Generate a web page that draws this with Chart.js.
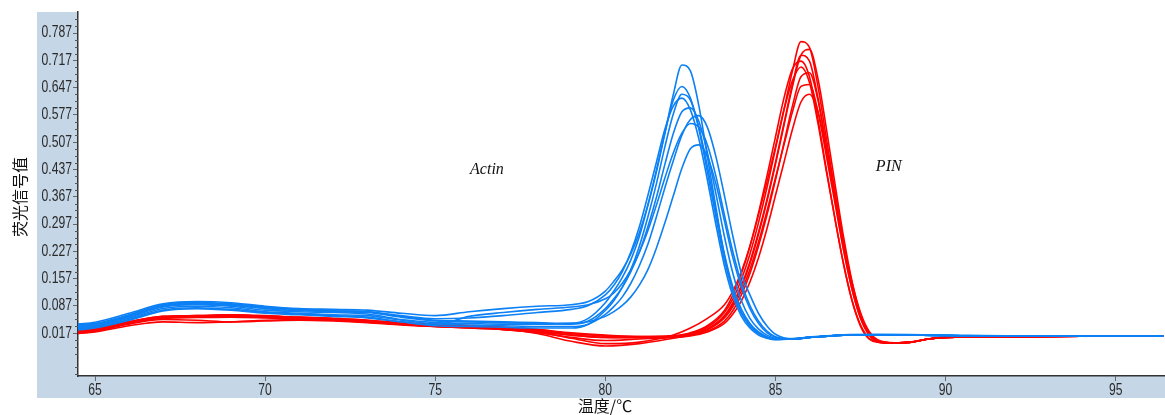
<!DOCTYPE html>
<html>
<head>
<meta charset="utf-8">
<script src="https://cdn.jsdelivr.net/npm/chart.js@4.4.1/dist/chart.umd.min.js"></script>
<style>
  html, body { margin: 0; padding: 0; background: #fff; }
</style>
</head>
<body>
<canvas id="myChart" width="1165" height="415"></canvas>
<script>
// tick labels
const xTicks = [65, 70, 75, 80, 85, 90, 95];
const yTicks = [0.017, 0.087, 0.157, 0.227, 0.297, 0.367, 0.437, 0.507, 0.577, 0.647, 0.717, 0.787];

// temperature grids (°C)
const actinTemps = [64.5, 65, 66, 67, 68, 69, 70, 71, 72, 73, 74, 75, 76, 77, 78, 79, 79.5, 80,
	80.25, 80.5, 80.75, 81, 81.25, 81.5, 81.75, 82, 82.25, 82.5, 82.75, 83, 83.25, 83.5, 83.75,
	84, 84.25, 84.5, 84.75, 85, 85.5, 86, 87, 88, 90, 92, 94, 96.4];
const pinTemps = [64.5, 65, 66, 67, 68, 69, 70, 71, 72, 73, 74, 75, 76, 77, 78, 79, 80, 81, 82,
	82.5, 83, 83.5, 83.75, 84, 84.25, 84.5, 84.75, 85, 85.25, 85.5, 85.75, 86, 86.25, 86.5, 86.75,
	87, 87.25, 87.5, 87.75, 88, 88.5, 89, 89.5, 90, 92, 94, 96.4];

// Actin melt curves (blue)
const actin1 = [0.040, 0.045, 0.068, 0.092, 0.098, 0.095, 0.086, 0.080, 0.078, 0.076, 0.068, 0.062, 0.072, 0.080, 0.086, 0.090, 0.098, 0.125,
	0.150, 0.180, 0.220, 0.275, 0.345, 0.430, 0.530, 0.630, 0.705, 0.690, 0.600, 0.470, 0.340, 0.215, 0.125,
	0.068, 0.035, 0.016, 0.006, 0.002, 0.003, 0.007, 0.013, 0.014, 0.012, 0.010, 0.010, 0.010];
const actin2 = [0.032, 0.036, 0.058, 0.084, 0.090, 0.086, 0.076, 0.072, 0.070, 0.066, 0.052, 0.044, 0.042, 0.040, 0.040, 0.042, 0.055, 0.095,
	0.125, 0.160, 0.205, 0.265, 0.345, 0.435, 0.530, 0.615, 0.650, 0.620, 0.540, 0.430, 0.315, 0.205, 0.125,
	0.070, 0.038, 0.018, 0.006, 0.001, 0.002, 0.006, 0.012, 0.013, 0.011, 0.009, 0.009, 0.009];
const actin3 = [0.025, 0.030, 0.050, 0.074, 0.080, 0.076, 0.068, 0.064, 0.060, 0.056, 0.046, 0.036, 0.034, 0.032, 0.030, 0.030, 0.040, 0.075,
	0.100, 0.135, 0.180, 0.240, 0.315, 0.400, 0.495, 0.580, 0.630, 0.615, 0.545, 0.445, 0.330, 0.220, 0.135,
	0.078, 0.042, 0.020, 0.008, 0.002, 0.002, 0.006, 0.012, 0.013, 0.011, 0.009, 0.009, 0.009];
const actin4 = [0.036, 0.040, 0.062, 0.088, 0.092, 0.088, 0.080, 0.075, 0.072, 0.070, 0.058, 0.048, 0.046, 0.044, 0.042, 0.040, 0.048, 0.080,
	0.105, 0.135, 0.175, 0.225, 0.290, 0.365, 0.450, 0.530, 0.585, 0.595, 0.560, 0.480, 0.375, 0.265, 0.170,
	0.100, 0.055, 0.028, 0.012, 0.004, 0.002, 0.006, 0.012, 0.013, 0.011, 0.009, 0.009, 0.009];
const actin5 = [0.030, 0.034, 0.055, 0.080, 0.086, 0.082, 0.072, 0.068, 0.064, 0.062, 0.050, 0.040, 0.038, 0.036, 0.034, 0.034, 0.040, 0.065,
	0.085, 0.110, 0.145, 0.190, 0.245, 0.315, 0.390, 0.460, 0.525, 0.565, 0.575, 0.545, 0.470, 0.370, 0.265,
	0.170, 0.115, 0.068, 0.035, 0.014, 0.002, 0.006, 0.012, 0.013, 0.011, 0.009, 0.009, 0.009];
const actin6 = [0.028, 0.032, 0.052, 0.076, 0.082, 0.078, 0.070, 0.066, 0.062, 0.058, 0.046, 0.038, 0.060, 0.070, 0.078, 0.084, 0.090, 0.105,
	0.120, 0.145, 0.180, 0.225, 0.280, 0.345, 0.415, 0.480, 0.530, 0.555, 0.545, 0.500, 0.420, 0.320, 0.225,
	0.145, 0.088, 0.048, 0.022, 0.008, 0.002, 0.006, 0.012, 0.013, 0.011, 0.009, 0.009, 0.009];
const actin7 = [0.034, 0.038, 0.060, 0.086, 0.094, 0.090, 0.082, 0.078, 0.074, 0.072, 0.060, 0.050, 0.048, 0.046, 0.044, 0.042, 0.046, 0.060,
	0.072, 0.088, 0.110, 0.140, 0.180, 0.235, 0.300, 0.370, 0.440, 0.490, 0.500, 0.470, 0.400, 0.305, 0.210,
	0.135, 0.080, 0.042, 0.018, 0.006, 0.002, 0.006, 0.012, 0.013, 0.011, 0.009, 0.009, 0.009];
const actin8 = [0.038, 0.042, 0.064, 0.090, 0.096, 0.092, 0.084, 0.078, 0.074, 0.072, 0.062, 0.054, 0.056, 0.062, 0.070, 0.078, 0.088, 0.115,
	0.140, 0.175, 0.225, 0.290, 0.370, 0.455, 0.540, 0.600, 0.620, 0.590, 0.515, 0.410, 0.295, 0.190, 0.112,
	0.060, 0.030, 0.012, 0.004, 0.000, 0.002, 0.006, 0.012, 0.013, 0.011, 0.009, 0.009, 0.009];

// PIN melt curves (red)
const pin1 = [0.018, 0.024, 0.042, 0.056, 0.058, 0.060, 0.058, 0.055, 0.052, 0.048, 0.040, 0.036, 0.034, 0.030, 0.024, 0.016, 0.010, 0.008, 0.010,
	0.016, 0.032, 0.070, 0.105, 0.155, 0.220, 0.300, 0.390, 0.490, 0.590, 0.690, 0.765, 0.750, 0.650, 0.515, 0.380,
	0.250, 0.140, 0.060, 0.015, -0.004, -0.008, -0.006, 0.002, 0.006, 0.008, 0.009, 0.010];
const pin2 = [0.020, 0.026, 0.045, 0.060, 0.062, 0.064, 0.060, 0.056, 0.052, 0.046, 0.040, 0.035, 0.032, 0.028, 0.022, 0.012, 0.006, 0.005, 0.008,
	0.014, 0.028, 0.062, 0.095, 0.140, 0.200, 0.275, 0.360, 0.455, 0.555, 0.655, 0.730, 0.715, 0.620, 0.490, 0.360,
	0.235, 0.130, 0.055, 0.012, -0.005, -0.009, -0.006, 0.002, 0.006, 0.008, 0.009, 0.010];
const pin3 = [0.016, 0.022, 0.040, 0.052, 0.050, 0.046, 0.048, 0.050, 0.048, 0.044, 0.038, 0.034, 0.032, 0.028, 0.020, 0.004, -0.010, -0.006, 0.012,
	0.030, 0.055, 0.090, 0.125, 0.175, 0.240, 0.320, 0.405, 0.495, 0.590, 0.665, 0.700, 0.660, 0.555, 0.430, 0.310,
	0.195, 0.100, 0.035, 0.002, -0.006, -0.008, -0.005, 0.002, 0.006, 0.008, 0.009, 0.010];
const pin4 = [0.022, 0.028, 0.046, 0.058, 0.060, 0.062, 0.060, 0.058, 0.054, 0.050, 0.042, 0.038, 0.036, 0.032, 0.026, 0.018, 0.012, 0.008, 0.008,
	0.012, 0.022, 0.048, 0.075, 0.115, 0.170, 0.240, 0.320, 0.410, 0.505, 0.600, 0.675, 0.685, 0.615, 0.495, 0.370,
	0.245, 0.140, 0.062, 0.018, -0.002, -0.008, -0.006, 0.002, 0.006, 0.008, 0.009, 0.010];
const pin5 = [0.020, 0.025, 0.044, 0.058, 0.061, 0.062, 0.059, 0.055, 0.050, 0.045, 0.039, 0.034, 0.030, 0.026, 0.018, 0.006, -0.002, 0.002, 0.006,
	0.012, 0.026, 0.056, 0.085, 0.125, 0.180, 0.250, 0.330, 0.415, 0.500, 0.585, 0.650, 0.655, 0.585, 0.470, 0.350,
	0.230, 0.130, 0.056, 0.014, -0.004, -0.009, -0.006, 0.002, 0.006, 0.008, 0.009, 0.010];
const pin6 = [0.024, 0.030, 0.047, 0.060, 0.062, 0.064, 0.062, 0.058, 0.055, 0.050, 0.044, 0.040, 0.036, 0.032, 0.026, 0.016, 0.010, 0.007, 0.007,
	0.010, 0.020, 0.042, 0.066, 0.100, 0.148, 0.210, 0.285, 0.370, 0.455, 0.540, 0.610, 0.630, 0.585, 0.485, 0.370,
	0.250, 0.148, 0.070, 0.022, 0.000, -0.008, -0.006, 0.002, 0.006, 0.008, 0.009, 0.010];
const pin7 = [0.018, 0.024, 0.043, 0.055, 0.057, 0.058, 0.056, 0.053, 0.050, 0.046, 0.040, 0.034, 0.030, 0.026, 0.020, 0.012, 0.006, 0.006, 0.010,
	0.018, 0.036, 0.075, 0.115, 0.170, 0.240, 0.325, 0.420, 0.520, 0.620, 0.695, 0.715, 0.675, 0.565, 0.435, 0.310,
	0.195, 0.102, 0.038, 0.004, -0.006, -0.009, -0.006, 0.002, 0.006, 0.008, 0.009, 0.010];
const pin8 = [0.016, 0.020, 0.036, 0.046, 0.044, 0.046, 0.050, 0.052, 0.050, 0.046, 0.040, 0.036, 0.033, 0.028, 0.016, -0.004, -0.016, -0.010, 0.004,
	0.012, 0.026, 0.058, 0.090, 0.135, 0.195, 0.270, 0.355, 0.450, 0.550, 0.650, 0.730, 0.745, 0.670, 0.540, 0.400,
	0.265, 0.150, 0.066, 0.018, -0.003, -0.008, -0.006, 0.002, 0.006, 0.008, 0.009, 0.010];

const actinCurves = [actin1, actin2, actin3, actin4, actin5, actin6, actin7, actin8];
const pinCurves = [pin1, pin2, pin3, pin4, pin5, pin6, pin7, pin8];

const BLUE = "#0c80f4";
const RED = "#ff0000";

function makeSet(temps, vals, color) {
	return {
		data: temps.map((t, i) => ({ x: t, y: vals[i] })),
		borderColor: color,
		borderWidth: 1.6,
		pointRadius: 0,
		fill: false,
		cubicInterpolationMode: "monotone",
	};
}

// Chart.js paints the first dataset last, so blue goes first to sit on top
const datasets = [];
actinCurves.forEach((c) => datasets.push(makeSet(actinTemps, c, BLUE)));
pinCurves.forEach((c) => datasets.push(makeSet(pinTemps, c, RED)));

const decor = {
	id: "decor",
	beforeDraw(chart) {
		const c = chart.ctx;
		const a = chart.chartArea;
		c.save();
		c.fillStyle = "#ffffff";
		c.fillRect(0, 0, chart.width, chart.height);
		c.fillStyle = "#c5d6e6";
		c.fillRect(37, a.top, chart.width - 37, 398 - a.top);
		c.fillStyle = "#ffffff";
		c.fillRect(a.left, a.top, a.right - a.left, a.bottom - a.top);
		c.restore();
	},
	afterDraw(chart) {
		const c = chart.ctx;
		const a = chart.chartArea;
		const ys = chart.scales.y;
		const xs = chart.scales.x;
		c.save();
		// minor ticks on the y axis
		c.strokeStyle = "#555";
		c.lineWidth = 1;
		for (let k = -6; k <= 46; k++) {
			if (k % 4 === 0) continue;
			const v = 0.017 + k * 0.0175;
			const py = Math.round(ys.getPixelForValue(v)) + 0.5;
			if (py < a.top || py > a.bottom) continue;
			c.beginPath();
			c.moveTo(a.left - 3, py);
			c.lineTo(a.left, py);
			c.stroke();
		}
		// tick labels in a narrow face
		c.fillStyle = "#2a2a2a";
		c.font = "16px 'Liberation Sans', Arial, sans-serif";
		c.textBaseline = "middle";
		yTicks.forEach((v) => {
			c.save();
			c.translate(a.left - 6, ys.getPixelForValue(v));
			c.scale(0.76, 1);
			c.textAlign = "right";
			c.fillText(v.toFixed(3), 0, 0);
			c.restore();
		});
		xTicks.forEach((v) => {
			c.save();
			c.translate(xs.getPixelForValue(v), 391);
			c.scale(0.76, 1);
			c.textAlign = "center";
			c.fillText(String(v), 0, 0);
			c.restore();
		});
		// axis titles
		c.fillStyle = "#111";
		c.font = "16px 'Noto Sans CJK SC', sans-serif";
		c.textAlign = "center";
		c.textBaseline = "middle";
		c.fillText("温度/℃", 605, 406);
		c.translate(20, 197);
		c.rotate(-Math.PI / 2);
		c.fillText("荧光信号值", 0, 0);
		c.restore();
		// curve labels
		c.save();
		c.fillStyle = "#111";
		c.font = "italic 16px 'Liberation Serif', serif";
		c.textAlign = "center";
		c.textBaseline = "middle";
		c.fillText("Actin", xs.getPixelForValue(76.52), ys.getPixelForValue(0.435));
		c.fillText("PIN", xs.getPixelForValue(88.33), ys.getPixelForValue(0.443));
		c.restore();
	},
};

const ctx = document.getElementById("myChart");

const myChart = new Chart(ctx, {
	type: "line",
	data: { datasets: datasets },
	plugins: [decor],
	options: {
		responsive: false,
		animation: false,
		events: [],
		layout: { padding: { left: 37, top: 12, right: 0, bottom: 17 } },
		plugins: {
			legend: { display: false },
			tooltip: { enabled: false },
		},
		scales: {
			x: {
				type: "linear",
				min: 64.5,
				max: 96.45,
				afterBuildTicks: (s) => { s.ticks = xTicks.map((v) => ({ value: v })); },
				afterFit: (s) => { s.height = 22; },
				grid: { display: true, drawOnChartArea: false, drawTicks: true, tickLength: 5, color: "#666" },
				border: { display: true, color: "#333", width: 1.5 },
				ticks: { display: false },
			},
			y: {
				type: "linear",
				min: -0.093,
				max: 0.841,
				afterBuildTicks: (s) => { s.ticks = yTicks.map((v) => ({ value: v })); },
				afterFit: (s) => { s.width = 41; },
				grid: { display: true, drawOnChartArea: false, drawTicks: true, tickLength: 5, color: "#666" },
				border: { display: true, color: "#333", width: 1.5 },
				ticks: { display: false },
			},
		},
	},
});
</script>
</body>
</html>
